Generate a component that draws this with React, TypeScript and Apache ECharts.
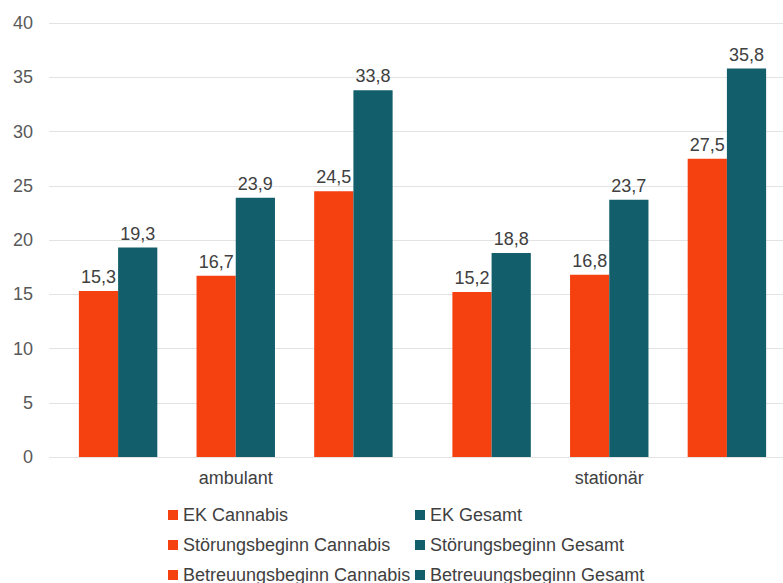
import React, { useEffect, useRef } from "react";
import * as echarts from "echarts";

const categories = ["ambulant", "stationär"];
const ekCannabis = [15.3, 15.2];
const ekGesamt = [19.3, 18.8];
const sbCannabis = [16.7, 16.8];
const sbGesamt = [23.9, 23.7];
const bbCannabis = [24.5, 27.5];
const bbGesamt = [33.8, 35.8];
const yTicks = { min: 0, max: 40, interval: 5 };

const ORANGE = "#F4410F";
const TEAL = "#135E6B";
const FONT = "Liberation Sans, Arial, sans-serif";

export default function App() {
  const ref = useRef<HTMLDivElement>(null);
  useEffect(() => {
    if (!ref.current) return;
    const chart = echarts.init(ref.current, undefined, { renderer: "svg" });
    const fmt = (p: any) => String(p.value).replace(".", ",");
    const bar = (name: string, data: number[], color: string) => ({
      name,
      type: "bar",
      data,
      itemStyle: { color },
      label: {
        show: true,
        position: "top",
        distance: 5,
        formatter: fmt,
        fontFamily: FONT,
        fontSize: 18,
        color: "#404040",
      },
    });
    const gap = (name: string) => ({
      name,
      type: "bar",
      data: categories.map(() => "-"),
      itemStyle: { color: "transparent" },
    });
    const legendCommon = {
      orient: "vertical",
      icon: "rect",
      itemWidth: 10,
      itemHeight: 10,
      itemGap: 12,
      padding: 0,
      height: 100,
      selectedMode: false,
      textStyle: { fontFamily: FONT, fontSize: 18, color: "#404040", lineHeight: 18 },
    };
    chart.setOption({
      animation: false,
      textStyle: { fontFamily: FONT },
      grid: { left: 49, right: -13, top: 23, bottom: 126, outerBoundsMode: "none", containLabel: false },
      legend: [
        {
          ...legendCommon,
          left: 168,
          top: 506,
          data: ["EK Cannabis", "Störungsbeginn Cannabis", "Betreuungsbeginn Cannabis"],
        },
        {
          ...legendCommon,
          left: 415,
          top: 506,
          data: ["EK Gesamt", "Störungsbeginn Gesamt", "Betreuungsbeginn Gesamt"],
        },
      ],
      xAxis: {
        type: "category",
        data: categories,
        axisLine: { show: false },
        axisTick: { show: false },
        axisLabel: { fontFamily: FONT, fontSize: 18, color: "#404040", margin: 12 },
      },
      yAxis: {
        type: "value",
        min: yTicks.min,
        max: yTicks.max,
        interval: yTicks.interval,
        axisLine: { show: false },
        axisTick: { show: false },
        axisLabel: { fontFamily: FONT, fontSize: 18, color: "#595959", margin: 16 },
        splitLine: { lineStyle: { color: "#e3e3e3", width: 1 } },
      },
      series: [
        { ...bar("EK Cannabis", ekCannabis, ORANGE), barGap: "0%", barCategoryGap: "16%" },
        bar("EK Gesamt", ekGesamt, TEAL),
        gap("_gap1"),
        bar("Störungsbeginn Cannabis", sbCannabis, ORANGE),
        bar("Störungsbeginn Gesamt", sbGesamt, TEAL),
        gap("_gap2"),
        bar("Betreuungsbeginn Cannabis", bbCannabis, ORANGE),
        { ...bar("Betreuungsbeginn Gesamt", bbGesamt, TEAL), barGap: "0%", barCategoryGap: "16%" },
      ],
    });
    return () => chart.dispose();
  }, []);
  return (
    <div
      ref={ref}
      style={{ position: "fixed", left: 0, top: 0, width: 783, height: 583, background: "#fff" }}
    />
  );
}
